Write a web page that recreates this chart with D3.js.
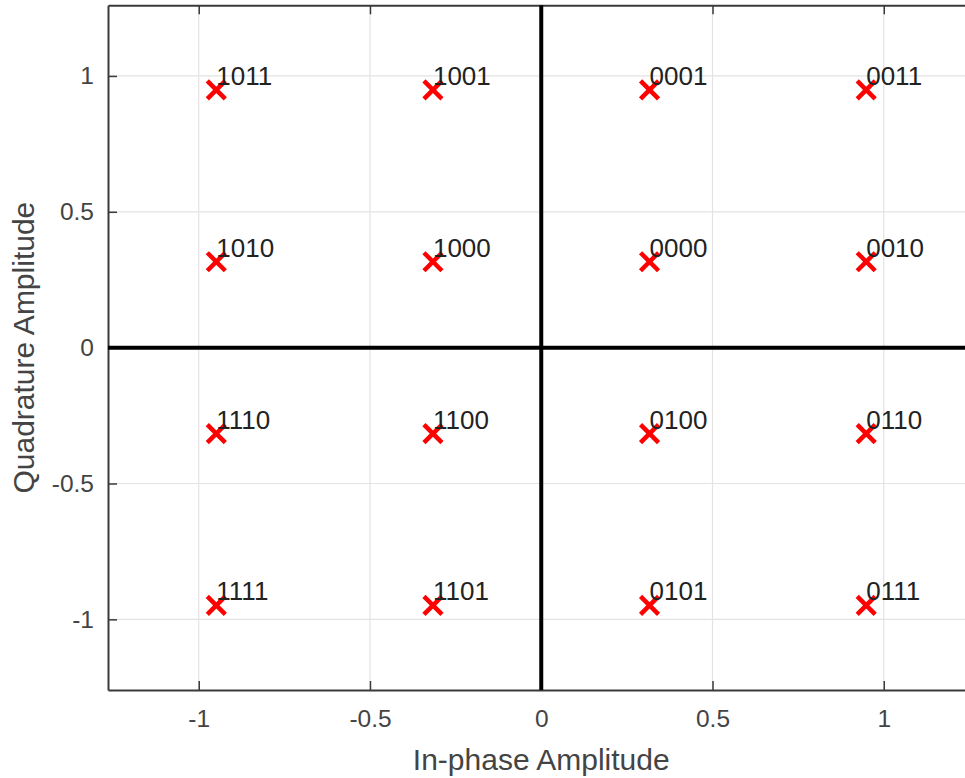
<!DOCTYPE html>
<html>
<head>
<meta charset="utf-8">
<script src="https://cdn.jsdelivr.net/npm/d3@7"></script>
<style>
  html, body { margin: 0; padding: 0; background: #fff; }
  svg { display: block; font-family: "Liberation Sans", Arial, Helvetica, sans-serif; }
</style>
</head>
<body>
<svg id="chart" width="965" height="778"></svg>
<script>
// ---- Data ----
const inPhase    = [-0.9487, -0.3162, 0.3162, 0.9487, -0.9487, -0.3162, 0.3162, 0.9487,
                    -0.9487, -0.3162, 0.3162, 0.9487, -0.9487, -0.3162, 0.3162, 0.9487];
const quadrature = [ 0.9487,  0.9487, 0.9487, 0.9487,  0.3162,  0.3162, 0.3162, 0.3162,
                    -0.3162, -0.3162, -0.3162, -0.3162, -0.9487, -0.9487, -0.9487, -0.9487];
const symbolLabels = ["1011", "1001", "0001", "0011",
                      "1010", "1000", "0000", "0010",
                      "1110", "1100", "0100", "0110",
                      "1111", "1101", "0101", "0111"];
const xTicks = [-1, -0.5, 0, 0.5, 1];
const yTicks = [-1, -0.5, 0, 0.5, 1];
const xLimits = [-1.2649, 1.2649];
const yLimits = [-1.26, 1.26];
const xTitle = "In-phase Amplitude";
const yTitle = "Quadrature Amplitude";

// ---- Layout ----
const pLeft = 108, pRight = 974.5, pTop = 5.3, pBottom = 690;
const svg = d3.select("#chart");
const x = d3.scaleLinear().domain(xLimits).range([pLeft, pRight]);
const y = d3.scaleLinear().domain(yLimits).range([pBottom, pTop]);
const axisColor = "#3a3a3a";
const fmt = d => (d === 0 ? "0" : String(d));

// Grid
const grid = svg.append("g");
grid.selectAll("line.gx").data(xTicks).join("line").attr("class", "gx")
  .attr("x1", d => x(d)).attr("x2", d => x(d))
  .attr("y1", pTop).attr("y2", pBottom)
  .attr("stroke", "#e3e3e3").attr("stroke-width", 1.2);
grid.selectAll("line.gy").data(yTicks).join("line").attr("class", "gy")
  .attr("x1", pLeft).attr("x2", pRight)
  .attr("y1", d => y(d)).attr("y2", d => y(d))
  .attr("stroke", "#e3e3e3").attr("stroke-width", 1.2);

// Axes (inward ticks)
const tickLen = 9;
const xAxisB = d3.axisBottom(x).tickValues(xTicks).tickFormat(fmt).tickSizeInner(-tickLen).tickSizeOuter(0).tickPadding(20);
const xAxisT = d3.axisTop(x).tickValues(xTicks).tickFormat("").tickSizeInner(-tickLen).tickSizeOuter(0);
const yAxisL = d3.axisLeft(y).tickValues(yTicks).tickFormat(fmt).tickSizeInner(-tickLen).tickSizeOuter(0).tickPadding(14);
const yAxisR = d3.axisRight(y).tickValues(yTicks).tickFormat("").tickSizeInner(-tickLen).tickSizeOuter(0);

function styleAxis(g) {
  g.select(".domain").attr("stroke", axisColor).attr("stroke-width", 2);
  g.selectAll(".tick line").attr("stroke", axisColor).attr("stroke-width", 1.5);
  g.selectAll(".tick text").attr("fill", "#444").attr("font-size", 24.5)
    .attr("font-family", "'Liberation Sans', Arial, sans-serif");
}
svg.append("g").attr("transform", `translate(0,${pBottom})`).call(xAxisB).call(styleAxis);
svg.append("g").attr("transform", `translate(0,${pTop})`).call(xAxisT).call(styleAxis);
svg.append("g").attr("transform", `translate(${pLeft},0)`).call(yAxisL).call(styleAxis);
svg.append("g").attr("transform", `translate(${pRight},0)`).call(yAxisR).call(styleAxis);

// Thick zero lines
svg.append("line").attr("x1", x(0)).attr("x2", x(0)).attr("y1", pTop).attr("y2", pBottom)
  .attr("stroke", "#000").attr("stroke-width", 4);
svg.append("line").attr("x1", pLeft).attr("x2", pRight).attr("y1", y(0)).attr("y2", y(0))
  .attr("stroke", "#000").attr("stroke-width", 4);

// Points data
const pts = inPhase.map((v, i) => ({ i: v, q: quadrature[i], label: symbolLabels[i] }));

// Markers (x)
const m = 9;
svg.append("g").selectAll("path").data(pts).join("path")
  .attr("d", d => {
    const cx = x(d.i), cy = y(d.q);
    return `M${cx - m},${cy - m}L${cx + m},${cy + m}M${cx - m},${cy + m}L${cx + m},${cy - m}`;
  })
  .attr("stroke", "#ff0000").attr("stroke-width", 4.5).attr("fill", "none");

// Labels
svg.append("g").selectAll("text").data(pts).join("text")
  .attr("x", d => x(d.i))
  .attr("y", d => y(d.q) - 14)
  .attr("dominant-baseline", "central")
  .attr("font-size", 26)
  .attr("fill", "#222")
  .text(d => d.label);

// Axis titles
svg.append("text").attr("x", (pLeft + pRight) / 2).attr("y", 770)
  .attr("text-anchor", "middle").attr("font-size", 30).attr("fill", "#444")
  .text(xTitle);
svg.append("text")
  .attr("transform", `translate(34,${(pTop + pBottom) / 2}) rotate(-90)`)
  .attr("text-anchor", "middle").attr("font-size", 30).attr("fill", "#444")
  .text(yTitle);
</script>
</body>
</html>
